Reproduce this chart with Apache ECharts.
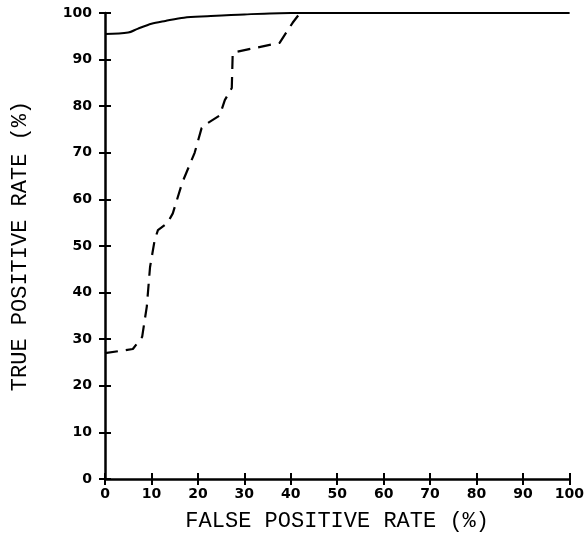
<!DOCTYPE html>
<html>
<head>
<meta charset="utf-8">
<script src="https://cdn.jsdelivr.net/npm/echarts@6/dist/echarts.min.js"></script>
<style>
  html, body { margin: 0; padding: 0; background: #fff; }
  #chart { width: 587px; height: 540px; }
</style>
</head>
<body>
<div id="chart"></div>
<script>
// ROC curves: false positive rate (%) vs true positive rate (%)
const solidFpr = [0, 5, 7, 10, 13, 17, 22, 30, 40, 100];
const solidTpr = [95.5, 95.8, 96.6, 97.7, 98.3, 99.0, 99.3, 99.7, 100, 100];

const dashedFpr = [0, 6, 8, 9, 9.7, 10.7, 11.4, 13.5, 14.6, 16.6, 19.3, 20.8, 21.5, 24.7, 25.8, 27.3, 27.5, 28, 37.6, 40.4, 42, 100];
const dashedTpr = [27.0, 27.9, 30.5, 37, 45.5, 51.3, 53.4, 55, 57, 63.5, 70, 75.3, 76, 78, 81.3, 83.9, 91.4, 91.6, 93.6, 97.9, 100, 100];

const xTicks = [0, 10, 20, 30, 40, 50, 60, 70, 80, 90, 100];
const yTicks = [0, 10, 20, 30, 40, 50, 60, 70, 80, 90, 100];

const pairs = (xs, ys) => xs.map((x, i) => [x, ys[i]]);

const labelFont = { fontFamily: 'DejaVu Sans', fontWeight: 'bold', fontSize: 14, color: '#000' };
const titleFont = { fontFamily: 'Liberation Mono', fontSize: 22, color: '#000' };
const axisLine = { show: true, lineStyle: { color: '#000', width: 2.5 } };

function valueAxis(extra) {
  return Object.assign({
    type: 'value', min: xTicks[0], max: xTicks[xTicks.length - 1], interval: 10,
    splitLine: { show: false }
  }, extra);
}

const chart = echarts.init(document.getElementById('chart'));
chart.setOption({
  animation: false,
  backgroundColor: '#fff',
  grid: { left: 105, right: 17, top: 13, bottom: 61 },
  xAxis: [
    valueAxis({
      position: 'bottom',
      name: 'FALSE POSITIVE RATE (%)', nameLocation: 'middle', nameGap: 31,
      nameTextStyle: titleFont,
      axisLine: axisLine,
      axisTick: { show: true, inside: false, length: 6, lineStyle: { color: '#000', width: 2 } },
      axisLabel: Object.assign({ margin: 8, formatter: v => xTicks.includes(v) ? String(v) : '' }, labelFont)
    }),
    valueAxis({
      position: 'bottom',
      axisLine: { show: false },
      axisTick: { show: true, inside: true, length: 6, lineStyle: { color: '#000', width: 2 } },
      axisLabel: { show: false }
    })
  ],
  yAxis: [
    valueAxis({
      min: yTicks[0], max: yTicks[yTicks.length - 1],
      position: 'left',
      name: 'TRUE POSITIVE RATE (%)', nameLocation: 'middle', nameGap: 74,
      nameTextStyle: titleFont,
      axisLine: axisLine,
      axisTick: { show: true, inside: false, length: 6, lineStyle: { color: '#000', width: 2 } },
      axisLabel: Object.assign({ margin: 13, formatter: v => yTicks.includes(v) ? String(v) : '' }, labelFont)
    }),
    valueAxis({
      min: yTicks[0], max: yTicks[yTicks.length - 1],
      position: 'left',
      axisLine: { show: false },
      axisTick: { show: true, inside: true, length: 6, lineStyle: { color: '#000', width: 2 } },
      axisLabel: { show: false }
    })
  ],
  series: [
    {
      type: 'line', data: pairs(dashedFpr, dashedTpr), showSymbol: false, smooth: false,
      lineStyle: { color: '#000', width: 2.2, type: [13, 8] }
    },
    {
      type: 'line', data: pairs(solidFpr, solidTpr), showSymbol: false, smooth: 0.3,
      lineStyle: { color: '#000', width: 2 }
    }
  ]
});
</script>
</body>
</html>
